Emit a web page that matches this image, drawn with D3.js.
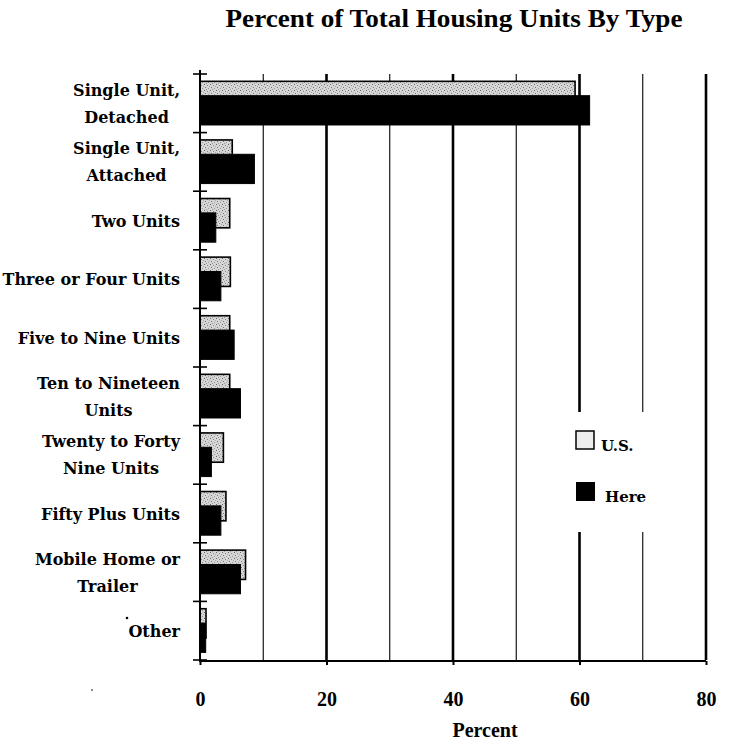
<!DOCTYPE html>
<html><head><meta charset="utf-8">
<script src="https://cdn.jsdelivr.net/npm/d3@7"></script>
<style>body{margin:0;background:#fff}svg{display:block}text{font-family:"Liberation Serif","DejaVu Serif",serif;font-weight:bold;fill:#000}.lab{font-family:"DejaVu Serif",serif}</style>
</head><body>
<script>
const categories = [
  ["Single Unit,", "Detached"],
  ["Single Unit,", "Attached"],
  ["Two Units"],
  ["Three or Four Units"],
  ["Five to Nine Units"],
  ["Ten to Nineteen", "Units"],
  ["Twenty to Forty", "Nine Units"],
  ["Fifty Plus Units"],
  ["Mobile Home or", "Trailer"],
  ["Other"]
];
const usValues   = [59.3, 5.1, 4.7, 4.8, 4.7, 4.7, 3.7, 4.1, 7.2, 0.95];
const hereValues = [61.6, 8.6, 2.5, 3.3, 5.4, 6.4, 1.8, 3.3, 6.4, 0.9];
const xTicks = [0, 20, 40, 60, 80];
const gridValues = [10, 20, 30, 40, 50, 60, 70, 80];
const seriesNames = ["U.S.", "Here"];
const title = "Percent of Total Housing Units By Type";
const xLabel = "Percent";

const W = 730, H = 745;
const svg = d3.select("body").append("svg").attr("width", W).attr("height", H);

const defs = svg.append("defs");
const pat = defs.append("pattern").attr("id","stip").attr("patternUnits","userSpaceOnUse")
  .attr("width",6).attr("height",6);
pat.append("rect").attr("width",6).attr("height",6).attr("fill","#d6d6d6");
[[0,0,"#666"],[3,1,"#888"],[1,3,"#777"],[4,4,"#999"],[5,2,"#aaa"],[2,5,"#999"]].forEach(([px,py,c])=>
  pat.append("rect").attr("x",px).attr("y",py).attr("width",1).attr("height",1).attr("fill",c));

const keys = categories.map((c,i)=>i);
const x = d3.scaleLinear().domain([0,80]).range([200,706]);
const y = d3.scaleBand().domain(keys).range([74,660]).paddingInner(0).paddingOuter(0);
const bw = y.bandwidth();

// title
svg.append("text").attr("x", 454).attr("y", 27).attr("text-anchor","middle")
  .attr("textLength", 457).attr("lengthAdjust","spacingAndGlyphs")
  .style("font-size","26px").text(title);

// gridlines
svg.append("g").selectAll("line").data(gridValues).join("line")
  .attr("x1", d=>x(d)).attr("x2", d=>x(d)).attr("y1", 74).attr("y2", 660)
  .attr("stroke","#000").attr("stroke-width", d=> d%20===0 ? 2.6 : 1.1);

// bars
const g = svg.append("g");
keys.forEach(i=>{
  g.append("rect").attr("x", x(0)).attr("y", y(i)+bw*0.125)
    .attr("width", x(usValues[i])-x(0)).attr("height", bw*0.5)
    .attr("fill","url(#stip)").attr("stroke","#000").attr("stroke-width",1.6);
  g.append("rect").attr("x", x(0)).attr("y", y(i)+bw*0.37)
    .attr("width", x(hereValues[i])-x(0)).attr("height", bw*0.5)
    .attr("fill","#000").attr("stroke","#000").attr("stroke-width",1);
});

// legend
const lg = svg.append("g");
lg.append("rect").attr("x",566).attr("y",412).attr("width",122).attr("height",120).attr("fill","#fff");
lg.append("rect").attr("x",576).attr("y",431).attr("width",18).attr("height",18)
  .attr("fill","#ececec").attr("stroke","#000").attr("stroke-width",1.5);
lg.append("text").attr("class","lab").attr("x",601).attr("y",451).style("font-size","15px").text(seriesNames[0]);
lg.append("rect").attr("x",576).attr("y",482).attr("width",19).attr("height",19)
  .attr("fill","#000");
lg.append("text").attr("class","lab").attr("x",605).attr("y",502).style("font-size","15px").text(seriesNames[1]);

// left axis
svg.append("line").attr("x1",x(0)).attr("x2",x(0)).attr("y1",70).attr("y2",662)
  .attr("stroke","#000").attr("stroke-width",2);
const bounds = keys.map(k=>y(k)).concat([660]);
svg.append("g").selectAll("line").data(bounds).join("line")
  .attr("x1",193).attr("x2",207).attr("y1",d=>d).attr("y2",d=>d)
  .attr("stroke","#000").attr("stroke-width",1.6);

// bottom axis
const xAxis = d3.axisBottom(x).tickValues(xTicks).tickSize(4).tickPadding(27).tickFormat(d3.format("d"));
const ax = svg.append("g").attr("transform","translate(0,661)").call(xAxis);
ax.select(".domain").attr("stroke-width",2).attr("d", `M${x(0)},0H${x(80)}`);
ax.selectAll(".tick line").attr("stroke-width",2);
ax.selectAll(".tick text").style("font-size","20px").attr("font-family",null);
svg.append("text").attr("x",485).attr("y",737).attr("text-anchor","middle").style("font-size","20px").text(xLabel);

// category labels
const lab = svg.append("g");
keys.forEach(i=>{
  const lines = categories[i];
  const cy = y(i) + bw/2;
  const t = lab.append("g");
  const texts = lines.map((s,j)=> t.append("text").attr("class","lab").style("font-size","16px")
    .attr("y", cy + 6 + (j - (lines.length-1)/2)*27).text(s));
  const maxW = d3.max(texts, tt=>tt.node().getComputedTextLength());
  const cx = 180 - maxW/2;
  texts.forEach(tt=>tt.attr("x",cx).attr("text-anchor","middle"));
});

// stray specks in scan
svg.append("circle").attr("cx",127).attr("cy",618).attr("r",1.3).attr("fill","#000");
svg.append("circle").attr("cx",92).attr("cy",690).attr("r",0.8).attr("fill","#000");
</script>
</body></html>
